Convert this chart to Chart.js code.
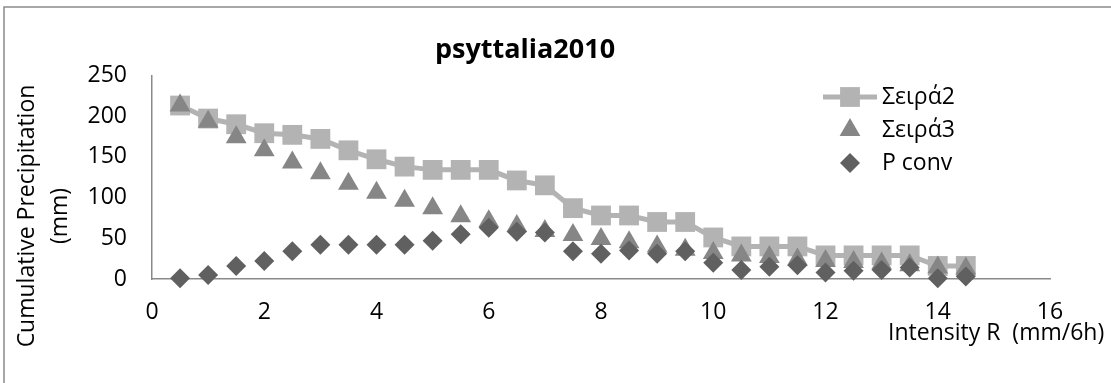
<!DOCTYPE html>
<html>
<head>
<meta charset="utf-8">
<script src="https://cdn.jsdelivr.net/npm/chart.js@4.4.0/dist/chart.umd.min.js"></script>
<style>
    html, body { margin: 0; padding: 0; background: #ffffff; }
    canvas { display: block; }
</style>
</head>
<body>
<canvas id="graficoPsyttalia" width="1111" height="383"></canvas>
<script>

/*
=====================================
DATOS
=====================================
*/

const intensidad = [0.5, 1, 1.5, 2, 2.5, 3, 3.5, 4, 4.5, 5, 5.5, 6, 6.5, 7, 7.5,
    8, 8.5, 9, 9.5, 10, 10.5, 11, 11.5, 12, 12.5, 13, 13.5, 14, 14.5];

const seira2 = [213, 197, 190, 179, 177, 172, 158, 147, 138, 134, 134, 134, 121, 115, 87,
    78, 78, 70, 70, 51, 40, 40, 40, 29, 29, 29, 29, 16, 16];

const seira3 = [213, 193, 174, 158, 143, 130, 117, 106, 96, 87, 77, 71, 65, 59, 54,
    49, 45, 40, 36, 32, 29, 27, 24, 22, 21, 19, 17, 14, 13];

const pConv = [1, 5, 16, 22, 34, 42, 42, 42, 42, 47, 55, 63, 58, 57, 34,
    31, 35, 31, 34, 20, 11, 15, 17, 8, 10, 11, 14, 1, 3];

const ticksX = [0, 2, 4, 6, 8, 10, 12, 14, 16];
const ticksY = [0, 50, 100, 150, 200, 250];

const puntos = serie => intensidad.map((x, i) => ({ x: x, y: serie[i] }));

const FUENTE = "'Open Sans', 'Noto Sans', sans-serif";
const GRIS_EJE = '#8a8a8a';


/*
=====================================
LEYENDA, TÍTULOS DE EJES Y MARCO
=====================================
*/

const extras = {
    id: 'extras',
    afterDraw(chart) {
        const ctx = chart.ctx;
        const h = Chart.helpers;

        // marco del gráfico
        ctx.save();
        ctx.strokeStyle = GRIS_EJE;
        ctx.lineWidth = 1.5;
        ctx.beginPath();
        ctx.moveTo(4, 383);
        ctx.lineTo(4, 7);
        ctx.lineTo(1111, 7);
        ctx.stroke();
        ctx.restore();

        // título del eje Y (dos líneas)
        ctx.save();
        ctx.fillStyle = '#000000';
        ctx.font = '23px ' + FUENTE;
        ctx.textAlign = 'center';
        ctx.textBaseline = 'middle';
        ctx.translate(27, 216);
        ctx.rotate(-Math.PI / 2);
        ctx.fillText('Cumulative Precipitation', 0, 0);
        ctx.fillText('(mm)', 0, 33);
        ctx.restore();

        // título del eje X
        ctx.save();
        ctx.fillStyle = '#000000';
        ctx.font = '23px ' + FUENTE;
        ctx.textAlign = 'left';
        ctx.textBaseline = 'middle';
        ctx.fillText('Intensity R  (mm/6h)', 888, 333);
        ctx.restore();

        // leyenda
        chart.data.datasets.forEach((ds, i) => {
            const y = 97 + i * 33;
            ctx.save();
            if (ds.showLine) {
                ctx.strokeStyle = ds.borderColor;
                ctx.lineWidth = ds.borderWidth;
                ctx.beginPath();
                ctx.moveTo(823, y);
                ctx.lineTo(877, y);
                ctx.stroke();
            }
            ctx.fillStyle = ds.pointBackgroundColor;
            ctx.strokeStyle = ds.pointBackgroundColor;
            ctx.lineWidth = 0;
            h.drawPoint(ctx, {
                pointStyle: ds.pointStyle,
                radius: ds.pointRadius,
                rotation: 0,
                borderWidth: 0
            }, 850, y);
            ctx.fillStyle = '#000000';
            ctx.font = '23px ' + FUENTE;
            ctx.textAlign = 'left';
            ctx.textBaseline = 'middle';
            ctx.fillText(ds.label, 882, y);
            ctx.restore();
        });
    }
};


/*
=====================================
GRÁFICO
=====================================
*/

const canvas = document.getElementById('graficoPsyttalia');

new Chart(canvas, {

    type: 'scatter',

    data: {
        datasets: [
            {
                label: 'Σειρά2',
                data: puntos(seira2),
                showLine: true,
                borderColor: '#b3b3b3',
                borderWidth: 5,
                pointStyle: 'rect',
                pointRadius: 14,
                pointBackgroundColor: '#b3b3b3',
                pointBorderWidth: 0,
                order: 3,
                clip: false
            },
            {
                label: 'Σειρά3',
                data: puntos(seira3),
                pointStyle: 'triangle',
                pointRadius: 12,
                pointBackgroundColor: '#868686',
                pointBorderWidth: 0,
                order: 2,
                clip: false
            },
            {
                label: 'P conv',
                data: puntos(pConv),
                pointStyle: 'rectRot',
                pointRadius: 10,
                pointBackgroundColor: '#606060',
                pointBorderWidth: 0,
                order: 1,
                clip: false
            }
        ]
    },

    options: {
        responsive: false,
        devicePixelRatio: 1,
        animation: false,
        events: [],
        layout: {
            padding: { left: 0, right: 61, top: 0, bottom: 0 }
        },
        plugins: {
            legend: { display: false },
            tooltip: { enabled: false },
            title: {
                display: true,
                text: 'psyttalia2010',
                color: '#000000',
                font: { family: FUENTE, size: 27, weight: 'bold' },
                padding: { top: 34, bottom: 9 }
            }
        },
        scales: {
            x: {
                type: 'linear',
                min: ticksX[0],
                max: ticksX[ticksX.length - 1],
                afterBuildTicks: s => { s.ticks = ticksX.map(v => ({ value: v })); },
                afterFit: s => { s.height = 104; },
                grid: { display: false, drawTicks: false },
                border: { color: GRIS_EJE, width: 1.5 },
                ticks: {
                    color: '#000000',
                    padding: 20,
                    maxRotation: 0,
                    font: { family: FUENTE, size: 23 }
                }
            },
            y: {
                min: ticksY[0],
                max: ticksY[ticksY.length - 1],
                afterBuildTicks: s => { s.ticks = ticksY.map(v => ({ value: v })); },
                afterFit: s => { s.width = 152; },
                grid: { display: false, drawTicks: false },
                border: { color: GRIS_EJE, width: 1.5 },
                ticks: {
                    color: '#000000',
                    padding: 25,
                    font: { family: FUENTE, size: 23 }
                }
            }
        }
    },

    plugins: [extras]

});

</script>
</body>
</html>
